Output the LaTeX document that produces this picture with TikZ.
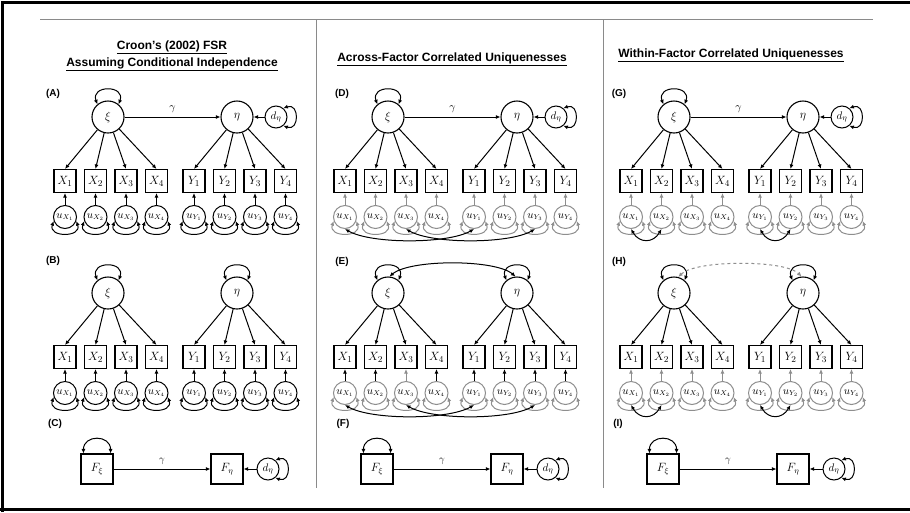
\documentclass[tikz,border=0pt]{standalone}
\usepackage{fontspec}
\setsansfont{Liberation Sans}
\usepackage{tikz}
\usetikzlibrary{arrows.meta}
\definecolor{cugray}{HTML}{8E8E8E}
\definecolor{rulegray}{HTML}{8A8A8A}

% one factor pair with its indicators:
% #1 prefix, #2 x shift, #3 height of xi/eta, #4 uniqueness colour,
% #5 X index/arrow colour, #6 Y index/arrow colour
\newcommand{\factorpair}[6]{%
  \node[latent] (#1xi) at (#2+108,#3) {$\xi$};
  \node[latent] (#1eta) at (#2+237,#3) {$\eta$};
  \draw[cov] (#1xi.130) to[out=110,in=70,looseness=2.5] (#1xi.50);
  \foreach \i/\ac in {#5}{
    \node[obs] (#1x\i) at ({#2+65+30.5*(\i-1)},#3+64) {$X_{\i}$};
    \node[uniq,draw=#4] (#1ux\i) at ({#2+65+30.5*(\i-1)},#3+100) {$u_{X_{\i}}$};
    \draw[arr] (#1xi) -- (#1x\i.north);
    \draw[arr,draw=\ac] (#1ux\i) -- (#1x\i);
    \draw[cov,draw=#4] (#1ux\i.200) to[out=250,in=290,looseness=2] (#1ux\i.340);
  }
  \foreach \i/\ac in {#6}{
    \node[obs] (#1y\i) at ({#2+194+30.5*(\i-1)},#3+64) {$Y_{\i}$};
    \node[uniq,draw=#4] (#1uy\i) at ({#2+194+30.5*(\i-1)},#3+100) {$u_{Y_{\i}}$};
    \draw[arr] (#1eta) -- (#1y\i.north);
    \draw[arr,draw=\ac] (#1uy\i) -- (#1y\i);
    \draw[cov,draw=#4] (#1uy\i.200) to[out=250,in=290,looseness=2] (#1uy\i.340);
  }
}
% factor score regression: #1 prefix, #2 x shift
\newcommand{\scorerow}[2]{%
  \node[fscore] (#1fxi) at (#2+97,469) {$F_{\xi}$};
  \node[fscore] (#1feta) at (#2+227,469) {$F_{\eta}$};
  \node[dist] (#1d) at (#2+268,469) {$d_{\eta}$};
  \draw[arr] (#1fxi) -- node[above=1pt] (#1gam) {$\gamma$} (#1feta);
  \draw[arr] (#1d) -- (#1feta);
  \draw[cov] ([xshift=3pt]#1fxi.north west) to[out=90,in=90,looseness=1.8] ([xshift=-3pt]#1fxi.north east);
  \draw[cov] (#1d.50) to[out=20,in=-20,looseness=2.5] (#1d.-50);
}

\begin{document}
\begin{tikzpicture}[x=1pt, y=-1pt,
  latent/.style={circle, draw, line width=1.1pt, minimum size=32pt, inner sep=0pt,
                 font=\fontsize{11.5}{12}\selectfont},
  obs/.style={rectangle, draw, line width=1.1pt, minimum width=22pt, minimum height=23pt,
              inner sep=0pt, font=\fontsize{12.5}{13}\selectfont},
  uniq/.style={circle, draw, line width=1pt, minimum size=23pt, inner sep=0pt,
               font=\fontsize{10.5}{11}\selectfont},
  dist/.style={circle, draw, line width=1pt, minimum size=22pt, inner sep=0pt,
               font=\fontsize{11}{12}\selectfont},
  fscore/.style={rectangle, draw, line width=1.1pt, minimum width=32pt, minimum height=30pt,
                 inner sep=0pt, font=\fontsize{12}{13}\selectfont},
  arr/.style={-{Latex[length=4.5pt,width=4pt]}, line width=1pt},
  cov/.style={{Latex[length=4.5pt,width=4pt]}-{Latex[length=4.5pt,width=4pt]}, line width=1pt},
  panel/.style={font=\sffamily\bfseries\fontsize{10}{11}\selectfont},
  head/.style={font=\sffamily\bfseries\fontsize{12}{17}\selectfont, align=center},
  rule/.style={draw=rulegray, line width=1pt},
  every label/.style={font=\fontsize{11}{12}\selectfont}
]
\useasboundingbox (0,0) rectangle (910,512);
\fill[white] (0,0) rectangle (910,512);
% page frame and column rules
\draw[line width=3pt] (2,512) -- (2,2) -- (910,2);
\draw[line width=3pt] (0,509) -- (910,509);
\draw[rule] (40,19) -- (873,19);
\draw[rule] (316,19) -- (316,488);
\draw[rule] (603,19) -- (603,488);

\node[head] (hcroon) at (172,56) {\underline{Croon’s (2002) FSR}\\\underline{Assuming Conditional Independence}};
\node[head] (hacross) at (452,59) {\underline{Across-Factor Correlated Uniquenesses}};
\node[head] (hwithin) at (731,55) {\underline{Within-Factor Correlated Uniquenesses}};

\node[panel] (la) at (53,94) {(A)};
\node[panel] (lb) at (53,261) {(B)};
\node[panel] (lc) at (55,424) {(C)};
\node[panel] (ld) at (342,94) {(D)};
\node[panel] (le) at (342,262) {(E)};
\node[panel] (lf) at (343,424) {(F)};
\node[panel] (lg) at (619,94) {(G)};
\node[panel] (lh) at (619,262) {(H)};
\node[panel] (li) at (618,424) {(I)};

% (A)
\factorpair{a}{0}{117}{black}{1/black,2/black,3/black,4/black}{1/black,2/black,3/black,4/black}
\node[dist] (ad) at (276,117) {$d_{\eta}$};
\draw[arr] (axi) -- node[above=1pt, font=\fontsize{11}{12}\selectfont] (agam) {$\gamma$} (aeta);
\draw[arr] (ad) -- (aeta);
\draw[cov] (ad.50) to[out=20,in=-20,looseness=2.5] (ad.-50);

% (B)
\factorpair{b}{0}{293}{black}{1/black,2/black,3/black,4/black}{1/black,2/black,3/black,4/black}
\draw[cov] (beta.130) to[out=110,in=70,looseness=2.5] (beta.50);

% (C)
\scorerow{c}{0}

% (D)
\factorpair{d}{280}{117}{cugray}{1/cugray,2/cugray,3/cugray,4/cugray}{1/cugray,2/cugray,3/cugray,4/cugray}
\node[dist] (dd) at (556,117) {$d_{\eta}$};
\draw[arr] (dxi) -- node[above=1pt, font=\fontsize{11}{12}\selectfont] (dgam) {$\gamma$} (deta);
\draw[arr] (dd) -- (deta);
\draw[cov] (dd.50) to[out=20,in=-20,looseness=2.5] (dd.-50);
\draw[cov] (dux1.south) to[out=-30,in=-150,looseness=0.6] (duy1.south);
\draw[cov] (dux3.south) to[out=-30,in=-150,looseness=0.6] (duy3.south);

% (E)
\factorpair{e}{280}{293}{cugray}{1/black,2/black,3/cugray,4/black}{1/black,2/black,3/black,4/black}
\draw[cov] (eeta.130) to[out=110,in=70,looseness=2.5] (eeta.50);
\draw[cov] (exi.85) to[out=40,in=140,looseness=0.55] (eeta.95);
\draw[cov] (eux1.south) to[out=-30,in=-150,looseness=0.6] (euy1.south);
\draw[cov] (eux3.south) to[out=-30,in=-150,looseness=0.6] (euy3.south);

% (F)
\scorerow{f}{280}

% (G)
\factorpair{g}{566}{117}{cugray}{1/cugray,2/cugray,3/cugray,4/cugray}{1/cugray,2/cugray,3/cugray,4/cugray}
\node[dist] (gd) at (842,117) {$d_{\eta}$};
\draw[arr] (gxi) -- node[above=1pt, font=\fontsize{11}{12}\selectfont] (ggam) {$\gamma$} (geta);
\draw[arr] (gd) -- (geta);
\draw[cov] (gd.50) to[out=20,in=-20,looseness=2.5] (gd.-50);
\draw[cov] (gux1.south) to[out=-60,in=-120,looseness=1.4] (gux2.south);
\draw[cov] (guy1.south) to[out=-60,in=-120,looseness=1.4] (guy2.south);

% (H)
\factorpair{h}{566}{293}{cugray}{1/cugray,2/cugray,3/cugray,4/cugray}{1/cugray,2/cugray,3/cugray,4/cugray}
\draw[cov] (heta.130) to[out=110,in=70,looseness=2.5] (heta.50);
\draw[cov, draw=cugray, dashed] (hxi.75) to[out=45,in=135,looseness=0.5] (heta.95);
\draw[cov] (hux1.south) to[out=-60,in=-120,looseness=1.4] (hux2.south);
\draw[cov] (huy1.south) to[out=-60,in=-120,looseness=1.4] (huy2.south);

% (I)
\scorerow{i}{566}
\end{tikzpicture}
\end{document}
